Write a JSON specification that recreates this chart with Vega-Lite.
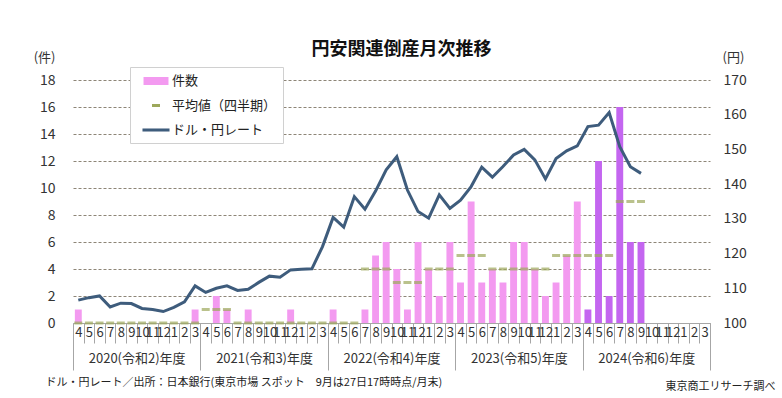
{
  "$schema": "https://vega.github.io/schema/vega-lite/v6.json",
  "width": 637,
  "height": 243,
  "autosize": {"type": "none"},
  "padding": {"left": 73, "top": 80, "right": 72, "bottom": 75},
  "background": "white",
  "title": {"text": "円安関連倒産月次推移", "fontSize": 18, "fontWeight": "bold", "font": "Noto Sans CJK JP", "color": "#111", "anchor": "middle", "frame": "group", "dx": 10, "offset": -8},
  "config": {"view": {"stroke": null}, "font": "Noto Sans CJK JP", "axis": {"labelColor": "#333", "titleColor": "#333", "labelFont": "Noto Sans CJK JP", "titleFont": "Noto Sans CJK JP"}},
  "data": {"values": [
    {"i":0,"fy":2020,"cnt":1,"avg":0,"rate":106.6},
    {"i":1,"fy":2020,"cnt":0,"avg":0,"rate":107.3},
    {"i":2,"fy":2020,"cnt":0,"avg":0,"rate":107.8},
    {"i":3,"fy":2020,"cnt":0,"avg":0,"rate":104.6},
    {"i":4,"fy":2020,"cnt":0,"avg":0,"rate":105.7},
    {"i":5,"fy":2020,"cnt":0,"avg":0,"rate":105.6},
    {"i":6,"fy":2020,"cnt":0,"avg":0,"rate":104.2},
    {"i":7,"fy":2020,"cnt":0,"avg":0,"rate":103.9},
    {"i":8,"fy":2020,"cnt":0,"avg":0,"rate":103.3},
    {"i":9,"fy":2020,"cnt":0,"avg":0,"rate":104.5},
    {"i":10,"fy":2020,"cnt":0,"avg":0,"rate":106.1},
    {"i":11,"fy":2020,"cnt":1,"avg":0,"rate":110.7},
    {"i":12,"fy":2021,"cnt":0,"avg":1,"rate":108.8},
    {"i":13,"fy":2021,"cnt":2,"avg":1,"rate":110.0},
    {"i":14,"fy":2021,"cnt":1,"avg":1,"rate":110.7},
    {"i":15,"fy":2021,"cnt":0,"avg":0,"rate":109.4},
    {"i":16,"fy":2021,"cnt":1,"avg":0,"rate":109.7},
    {"i":17,"fy":2021,"cnt":0,"avg":0,"rate":111.7},
    {"i":18,"fy":2021,"cnt":0,"avg":0,"rate":113.5},
    {"i":19,"fy":2021,"cnt":0,"avg":0,"rate":113.2},
    {"i":20,"fy":2021,"cnt":1,"avg":0,"rate":115.3},
    {"i":21,"fy":2021,"cnt":0,"avg":0,"rate":115.5},
    {"i":22,"fy":2021,"cnt":0,"avg":0,"rate":115.6},
    {"i":23,"fy":2021,"cnt":0,"avg":0,"rate":122.0},
    {"i":24,"fy":2022,"cnt":1,"avg":0,"rate":130.4},
    {"i":25,"fy":2022,"cnt":0,"avg":0,"rate":127.6},
    {"i":26,"fy":2022,"cnt":0,"avg":0,"rate":136.4},
    {"i":27,"fy":2022,"cnt":1,"avg":4,"rate":132.8},
    {"i":28,"fy":2022,"cnt":5,"avg":4,"rate":138.0},
    {"i":29,"fy":2022,"cnt":6,"avg":4,"rate":144.1},
    {"i":30,"fy":2022,"cnt":4,"avg":3,"rate":147.9},
    {"i":31,"fy":2022,"cnt":1,"avg":3,"rate":138.3},
    {"i":32,"fy":2022,"cnt":6,"avg":3,"rate":132.1},
    {"i":33,"fy":2022,"cnt":4,"avg":4,"rate":130.2},
    {"i":34,"fy":2022,"cnt":2,"avg":4,"rate":136.9},
    {"i":35,"fy":2022,"cnt":6,"avg":4,"rate":133.0},
    {"i":36,"fy":2023,"cnt":3,"avg":5,"rate":135.4},
    {"i":37,"fy":2023,"cnt":9,"avg":5,"rate":139.3},
    {"i":38,"fy":2023,"cnt":3,"avg":5,"rate":144.9},
    {"i":39,"fy":2023,"cnt":4,"avg":4,"rate":142.0},
    {"i":40,"fy":2023,"cnt":3,"avg":4,"rate":145.1},
    {"i":41,"fy":2023,"cnt":6,"avg":4,"rate":148.4},
    {"i":42,"fy":2023,"cnt":6,"avg":4,"rate":150.0},
    {"i":43,"fy":2023,"cnt":4,"avg":4,"rate":147.0},
    {"i":44,"fy":2023,"cnt":2,"avg":4,"rate":141.5},
    {"i":45,"fy":2023,"cnt":3,"avg":5,"rate":147.4},
    {"i":46,"fy":2023,"cnt":5,"avg":5,"rate":149.6},
    {"i":47,"fy":2023,"cnt":9,"avg":5,"rate":151.0},
    {"i":48,"fy":2024,"cnt":1,"avg":5,"rate":156.6},
    {"i":49,"fy":2024,"cnt":12,"avg":5,"rate":157.0},
    {"i":50,"fy":2024,"cnt":2,"avg":5,"rate":160.6},
    {"i":51,"fy":2024,"cnt":16,"avg":9,"rate":150.8},
    {"i":52,"fy":2024,"cnt":6,"avg":9,"rate":145.0},
    {"i":53,"fy":2024,"cnt":6,"avg":9,"rate":143.1},
    {"i":54,"fy":2024,"cnt":null,"avg":null,"rate":null},
    {"i":55,"fy":2024,"cnt":null,"avg":null,"rate":null},
    {"i":56,"fy":2024,"cnt":null,"avg":null,"rate":null},
    {"i":57,"fy":2024,"cnt":null,"avg":null,"rate":null},
    {"i":58,"fy":2024,"cnt":null,"avg":null,"rate":null},
    {"i":59,"fy":2024,"cnt":null,"avg":null,"rate":null}
  ]},
  "resolve": {"scale": {"y": "independent"}, "axis": {"x": "independent", "y": "independent"}},
  "layer": [
    {
      "mark": {"type": "bar", "width": {"band": 0.65}},
      "encoding": {
        "x": {"field": "i", "type": "ordinal", "scale": {"paddingInner": 0, "paddingOuter": 0},
          "axis": {"orient": "bottom", "tickBand": "extent", "tickSize": {"condition": {"test": "isValid(datum.value)", "value": 20}, "value": 47}, "tickColor": "#a6a6a6", "domainColor": "#a6a6a6", "labelExpr": "isValid(datum.value) ? ((datum.value + 3) % 12) + 1 : ''", "labelAngle": 0, "labelFontSize": 13, "labelPadding": -17, "labelOverlap": false, "labelBound": false, "labelFlush": false,
            "title": "東京商工リサーチ調べ", "titleX": 702, "titleY": 63, "titleAlign": "right", "titleBaseline": "middle", "titleFontSize": 11, "titleFontWeight": "normal", "titleColor": "#222"}},
        "y": {"field": "cnt", "type": "quantitative", "scale": {"domain": [0, 18], "nice": false},
          "axis": {"orient": "left", "values": [0, 2, 4, 6, 8, 10, 12, 14, 16, 18], "grid": true, "gridDash": [3, 2], "gridColor": "#8d8577", "domain": false, "ticks": false, "labelFontSize": 14, "labelPadding": 18,
            "title": "(件)", "titleAngle": 0, "titleX": -18, "titleY": -23, "titleAlign": "right", "titleBaseline": "middle", "titleFontSize": 13, "titleFontWeight": "normal"}},
        "color": {"condition": {"test": "datum.fy >= 2024", "value": "#C466F0"}, "value": "#F39AF0"}
      }
    },
    {
      "mark": {"type": "tick", "thickness": 3, "size": 8, "color": "#9DA85B"},
      "encoding": {
        "x": {"field": "i", "type": "ordinal", "axis": null},
        "y": {"field": "avg", "type": "quantitative", "scale": {"domain": [0, 18], "nice": false}, "axis": null}
      }
    },
    {
      "mark": {"type": "line", "color": "#3E5C7C", "strokeWidth": 3},
      "encoding": {
        "x": {"field": "i", "type": "ordinal",
          "axis": {"orient": "bottom", "values": [11, 23, 35, 47, 59], "tickBand": "extent", "tickSize": 47, "tickOpacity": {"condition": {"test": "isValid(datum.value)", "value": 1}, "value": 0}, "tickColor": "#a6a6a6", "domain": false, "labelExpr": "isValid(datum.value) ? ['2020(令和2)年度','2021(令和3)年度','2022(令和4)年度','2023(令和5)年度','2024(令和6)年度'][(datum.value + 1) / 12 - 1] : ''", "labelAngle": 0, "labelOffset": -58.4, "labelPadding": -18, "labelFontSize": 13, "labelOverlap": false, "labelBound": false, "labelFlush": false,
            "title": "ドル・円レート／出所：日本銀行(東京市場 スポット　9月は27日17時時点/月末)", "titleX": -28, "titleY": 59, "titleAlign": "left", "titleBaseline": "middle", "titleFontSize": 11, "titleFontWeight": "normal", "titleColor": "#222"}},
        "y": {"field": "rate", "type": "quantitative", "scale": {"domain": [100, 170], "nice": false, "zero": false},
          "axis": {"orient": "right", "values": [100, 110, 120, 130, 140, 150, 160, 170], "grid": false, "domain": false, "ticks": false, "labelFontSize": 14, "labelPadding": 13,
            "title": "(円)", "titleAngle": 0, "titleX": 12, "titleY": -23, "titleAlign": "left", "titleBaseline": "middle", "titleFontSize": 13, "titleFontWeight": "normal"}}
      }
    },
    {
      "data": {"values": [{"s": "件数"}, {"s": "平均値（四半期）"}, {"s": "ドル・円レート"}]},
      "mark": {"type": "point", "filled": true, "opacity": 1, "size": 0},
      "encoding": {
        "color": {"field": "s", "type": "nominal", "scale": {"domain": ["件数", "平均値（四半期）", "ドル・円レート"], "range": ["#F39AF0", "#9DA85B", "#3E5C7C"]},
          "legend": {"title": null, "orient": "none", "legendX": 57, "legendY": -13, "fillColor": "white", "strokeColor": "#d0d0d0", "padding": 6, "symbolOffset": 12, "symbolSize": 256, "symbolStrokeWidth": 0, "symbolOpacity": 1, "labelOffset": 8, "labelFontSize": 13, "labelColor": "#222", "labelFont": "Noto Sans CJK JP", "rowPadding": 9.5}},
        "shape": {"field": "s", "type": "nominal", "scale": {"domain": ["件数", "平均値（四半期）", "ドル・円レート"], "range": ["M-1.56,-0.5H1.56V0.5H-1.56Z", "M-0.5,-0.19H0.5V0.19H-0.5Z", "M-1.69,-0.19H1.69V0.19H-1.69Z"]},
          "legend": {"title": null, "orient": "none", "legendX": 57, "legendY": -13, "fillColor": "white", "strokeColor": "#d0d0d0", "padding": 6, "symbolOffset": 12, "symbolSize": 256, "symbolStrokeWidth": 0, "symbolOpacity": 1, "labelOffset": 8, "labelFontSize": 13, "labelColor": "#222", "labelFont": "Noto Sans CJK JP", "rowPadding": 9.5}}
      }
    }
  ]
}
